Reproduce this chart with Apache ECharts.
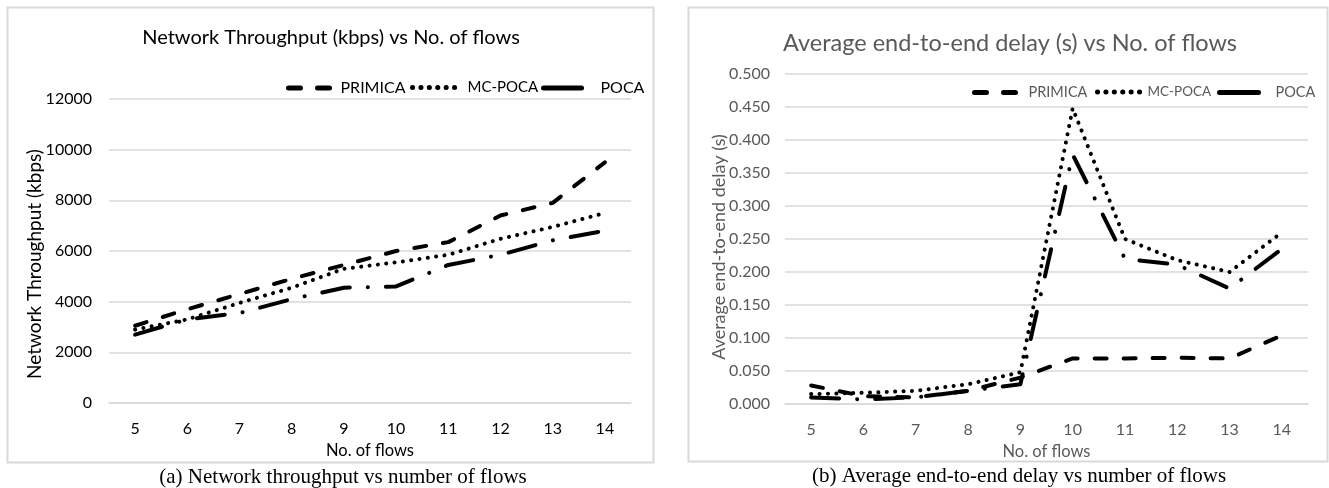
<!DOCTYPE html>
<html>
<head>
<meta charset="utf-8">
<script src="https://cdn.jsdelivr.net/npm/echarts@6/dist/echarts.min.js"></script>
<style>
  html, body { margin: 0; padding: 0; background: #fff; }
  #chart { width: 1329px; height: 488px; }
</style>
</head>
<body>
<div id="chart"></div>
<script>
// ---- data ----
const categories = ['5', '6', '7', '8', '9', '10', '11', '12', '13', '14'];
const seriesNames = ['PRIMICA', 'MC-POCA', 'POCA'];

const throughputPrimica = [3050, 3700, 4300, 4900, 5450, 6000, 6350, 7400, 7900, 9500];
const throughputMcPoca  = [2900, 3300, 3950, 4550, 5300, 5550, 5850, 6480, 6950, 7500];
const throughputPoca    = [2700, 3300, 3550, 4100, 4550, 4600, 5450, 5850, 6420, 6800];

const delayPrimica = [0.028, 0.012, 0.010, 0.020, 0.040, 0.069, 0.069, 0.070, 0.069, 0.104];
const delayMcPoca  = [0.015, 0.017, 0.020, 0.030, 0.048, 0.448, 0.250, 0.218, 0.200, 0.260];
const delayPoca    = [0.010, 0.007, 0.010, 0.020, 0.030, 0.378, 0.220, 0.211, 0.175, 0.235];

const titleLeft = 'Network Throughput (kbps) vs No. of flows';
const titleRight = 'Average end-to-end delay (s) vs No. of flows';
const yNameLeft = 'Network Throughput (kbps)';
const yNameRight = 'Average end-to-end delay (s)';
const xName = 'No. of flows';
const captionLeft = '(a) Network throughput vs number of flows';
const captionRight = '(b) Average end-to-end delay vs number of flows';

// ---- styles ----
const FONT = 'Lato, "Open Sans", sans-serif';
const SERIF = '"Liberation Serif", "DejaVu Serif", serif';
const GRID_COLOR = '#d9d9d9';
const dashStyles = {
  'PRIMICA': [12, 17],
  'MC-POCA': [0.1, 8.3],
  'POCA': [28, 18, 0.1, 18]
};

function lineSeries(name, data, xIdx, yIdx) {
  return {
    name: name,
    type: 'line',
    xAxisIndex: xIdx,
    yAxisIndex: yIdx,
    data: data,
    symbol: 'none',
    showSymbol: false,
    smooth: false,
    animation: false,
    lineStyle: { color: '#000', width: 4, type: dashStyles[name], cap: 'round', join: 'round' },
    itemStyle: { color: '#000' }
  };
}

function legendItem(name, left, top, iconW, fontSize, color, extraPad, solid) {
  return {
    data: [name],
    left: left,
    top: top,
    padding: 0,
    itemWidth: iconW,
    itemHeight: 14,
    selectedMode: false,
    itemStyle: { opacity: 0 },
    lineStyle: { width: 5, color: '#000', type: solid ? 'solid' : dashStyles[name], cap: 'round' },
    textStyle: { fontFamily: FONT, fontSize: fontSize, color: color, padding: [0, 0, 0, extraPad || 0] }
  };
}

const chart = echarts.init(document.getElementById('chart'), null, { renderer: 'canvas' });

const option = {
  backgroundColor: '#fff',
  animation: false,
  grid: [
    { left: 109, right: 1329 - 631, top: 99, bottom: 488 - 403 },
    { left: 785, right: 1329 - 1308, top: 74, bottom: 488 - 404 }
  ],
  xAxis: [
    {
      gridIndex: 0, type: 'category', data: categories, boundaryGap: true,
      axisLine: { lineStyle: { color: GRID_COLOR, width: 1.5 } }, axisTick: { show: false },
      axisLabel: { color: '#000', fontFamily: FONT, fontSize: 16, margin: 18 },
      name: xName, nameLocation: 'middle', nameGap: 36,
      nameTextStyle: { color: '#000', fontFamily: FONT, fontSize: 16.5 }
    },
    {
      gridIndex: 1, type: 'category', data: categories, boundaryGap: true,
      axisLine: { lineStyle: { color: GRID_COLOR, width: 1.5 } }, axisTick: { show: false },
      axisLabel: { color: '#595959', fontFamily: FONT, fontSize: 16, margin: 18 },
      name: xName, nameLocation: 'middle', nameGap: 35,
      nameTextStyle: { color: '#595959', fontFamily: FONT, fontSize: 16.5 }
    }
  ],
  yAxis: [
    {
      gridIndex: 0, type: 'value', min: 0, max: 12000, interval: 2000,
      axisLine: { show: false }, axisTick: { show: false },
      splitLine: { lineStyle: { color: GRID_COLOR, width: 1.5 } },
      axisLabel: { color: '#000', fontFamily: FONT, fontSize: 16, margin: 17,
                   formatter: function (v) { return String(v); } }
    },
    {
      gridIndex: 1, type: 'value', min: 0, max: 0.5, interval: 0.05,
      axisLine: { show: false }, axisTick: { show: false },
      splitLine: { lineStyle: { color: GRID_COLOR, width: 1.5 } },
      axisLabel: { color: '#595959', fontFamily: FONT, fontSize: 16, margin: 15,
                   formatter: function (v) { return v.toFixed(3); } }
    }
  ],
  legend: [
    legendItem('PRIMICA', 286, 80, 47, 16, '#000', 0, false),
    legendItem('MC-POCA', 410, 80, 50, 15, '#000', 0, false),
    legendItem('POCA', 541, 80, 38, 16, '#000', 14, true),
    legendItem('PRIMICA', 972, 85, 49, 14.5, '#595959', 0, false),
    legendItem('MC-POCA', 1095, 85, 45, 13.5, '#595959', 0, false),
    legendItem('POCA', 1217, 85, 39, 14.5, '#595959', 12, true)
  ],
  series: [
    lineSeries('PRIMICA', throughputPrimica, 0, 0),
    lineSeries('MC-POCA', throughputMcPoca, 0, 0),
    lineSeries('POCA', throughputPoca, 0, 0),
    lineSeries('PRIMICA', delayPrimica, 1, 1),
    lineSeries('MC-POCA', delayMcPoca, 1, 1),
    lineSeries('POCA', delayPoca, 1, 1)
  ],
  graphic: [
    { type: 'rect', z: -1, shape: { x: 7.5, y: 7.5, width: 646, height: 455 },
      style: { fill: 'none', stroke: GRID_COLOR, lineWidth: 2 } },
    { type: 'rect', z: -1, shape: { x: 688.5, y: 7.5, width: 639, height: 454 },
      style: { fill: 'none', stroke: GRID_COLOR, lineWidth: 2 } },
    { type: 'text', x: 331, y: 38,
      style: { text: titleLeft, fill: '#000', font: '20px ' + FONT, textAlign: 'center', textVerticalAlign: 'middle' } },
    { type: 'text', x: 1010, y: 43,
      style: { text: titleRight, fill: '#595959', font: '23.5px ' + FONT, textAlign: 'center', textVerticalAlign: 'middle' } },
    { type: 'text', x: 35, y: 264, rotation: Math.PI / 2,
      style: { text: yNameLeft, fill: '#000', font: '19px ' + FONT, textAlign: 'center', textVerticalAlign: 'middle' } },
    { type: 'text', x: 719, y: 247, rotation: Math.PI / 2,
      style: { text: yNameRight, fill: '#595959', font: '18px ' + FONT, textAlign: 'center', textVerticalAlign: 'middle' } },
    { type: 'text', x: 343, y: 477,
      style: { text: captionLeft, fill: '#000', font: '21px ' + SERIF, textAlign: 'center', textVerticalAlign: 'middle' } },
    { type: 'text', x: 1019, y: 476,
      style: { text: captionRight, fill: '#000', font: '21px ' + SERIF, textAlign: 'center', textVerticalAlign: 'middle' } }
  ]
};

chart.setOption(option);
</script>
</body>
</html>
